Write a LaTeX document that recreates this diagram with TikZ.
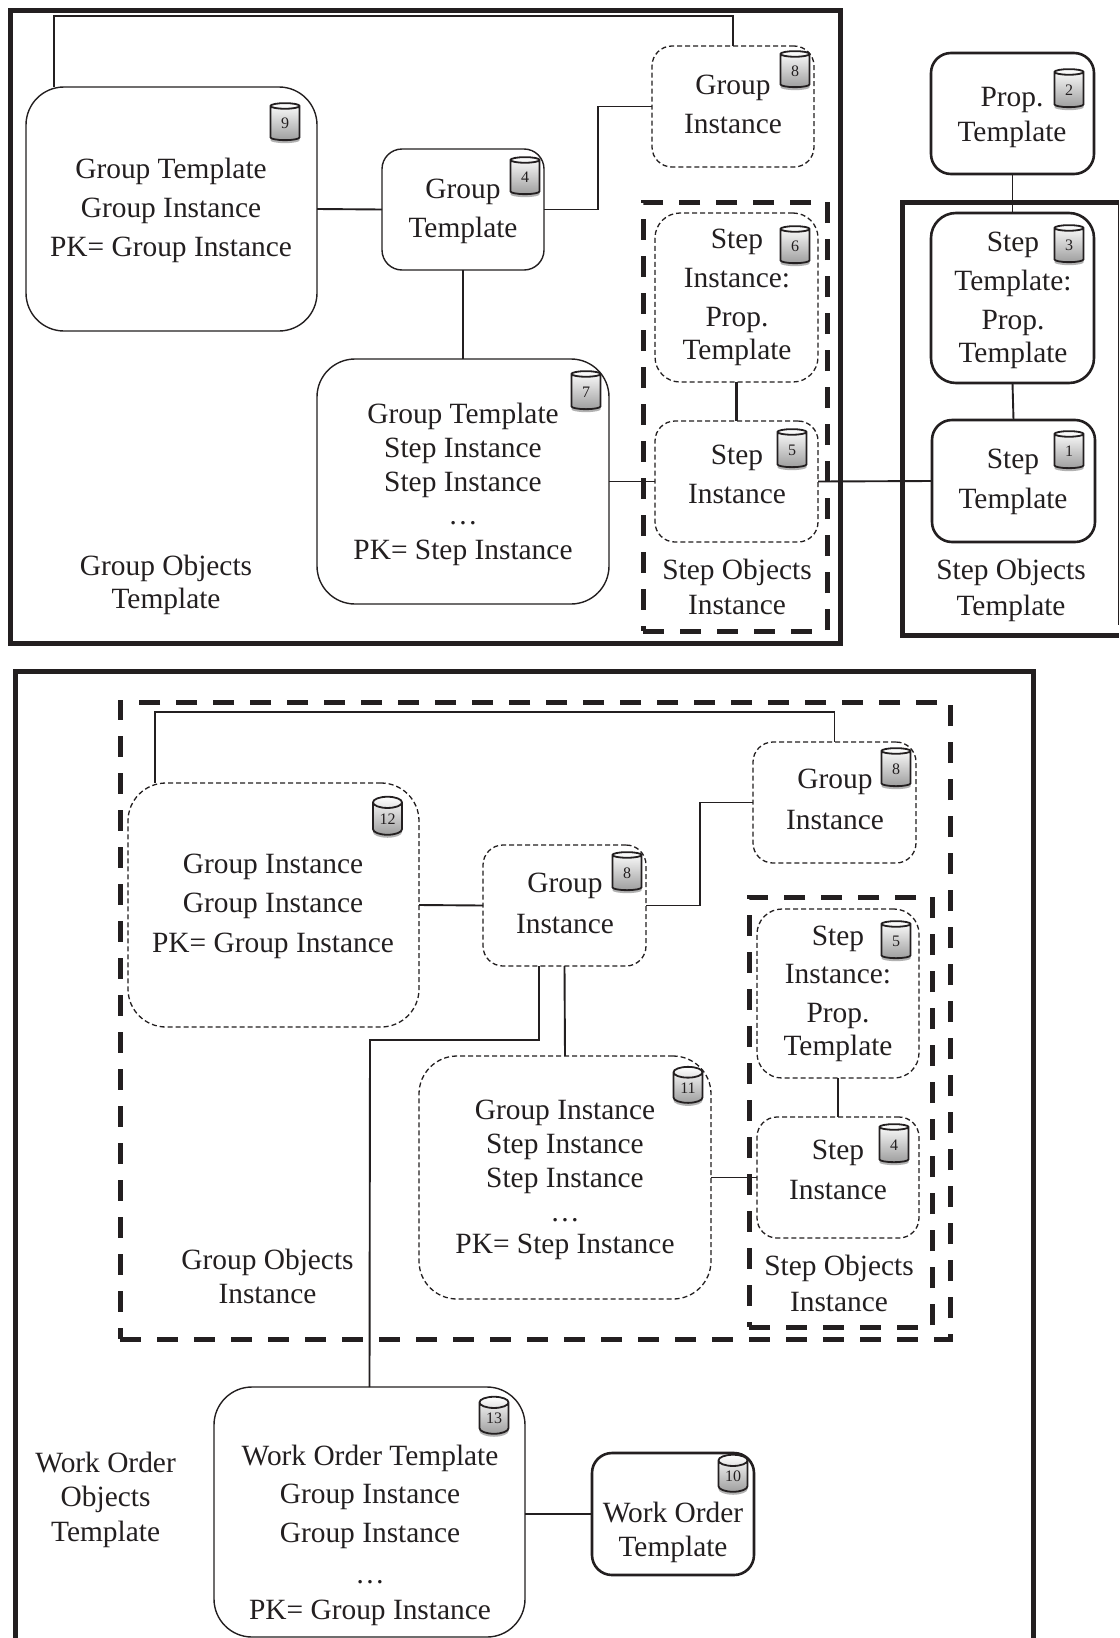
\documentclass[tikz,border=0pt]{standalone}
\usepackage{fontspec}
\setmainfont{Liberation Serif}
\usetikzlibrary{shapes.geometric,shadows}
\definecolor{ink}{HTML}{231F20}
\tikzset{
  boxbase/.style={rectangle,draw=ink,inner sep=0pt,outer sep=0pt},
  frame/.style={boxbase,line width=5pt},
  framepath/.style={draw=ink,line width=5pt},
  bigdash/.style={boxbase,line width=5pt,dash pattern=on 21pt off 16pt},
  thinsolid/.style={boxbase,line width=1.4pt,rounded corners=#1},
  boldsolid/.style={boxbase,line width=2.6pt,rounded corners=#1},
  thindash/.style={boxbase,line width=1.3pt,dash pattern=on 5pt off 3pt,rounded corners=#1},
  link/.style={draw=ink,line width=1.9pt},
  boldlink/.style={draw=ink,line width=2.8pt},
  txt/.style={text=ink,inner sep=0pt,outer sep=0pt,anchor=north,align=center,yshift=21.6pt,font=\fontsize{29.4}{37}\selectfont},
  cyl/.style={cylinder,shape border rotate=90,aspect=0.7,draw=ink,line width=1.8pt,inner sep=0pt,outer sep=0pt,
    top color=white,bottom color=black!38,text=ink,font=\fontsize{16}{16}\selectfont,
    drop shadow={shadow xshift=0pt,shadow yshift=-3pt,opacity=.3,fill=black}},
}
\newcommand{\bx}[6]{\node[#2,minimum width={(#5-#3)*1pt},minimum height={(#6-#4)*1pt}] (#1) at ({(#3+#5)/2},{(#4+#6)/2}) {};}
\newcommand{\Txt}[4]{\node[txt] (#1) at (#2,#3) {\rule{0pt}{22pt}#4};}
\newcommand{\cy}[5]{\node[cyl,minimum width=29pt,minimum height={(#4-#3)*1pt}] (#1) at (#2,{(#3+#4)/2+2}) {#5};}
\begin{document}
\begin{tikzpicture}[x=1pt,y=-1pt]
\useasboundingbox[fill=white] (0,0) rectangle (1119,1638);
% frames
\bx{topframe}{frame}{10}{10}{840}{643}
\draw[framepath] (1119,202) -- (902,202) -- (902,635) -- (1119,635);
\draw[draw=ink,line width=0.8pt] (1118.6,202) -- (1118.6,625);
\draw[framepath] (15,1638) -- (15,671) -- (1033,671) -- (1033,1638);
\bx{stepinstA}{bigdash}{643}{202}{827}{631}
\bx{grpinst}{bigdash}{120}{702}{950}{1339}
\bx{stepinstB}{bigdash}{749}{897}{932}{1327}
% upper boxes
\bx{n8}{thindash=20pt}{652}{46}{814}{167}
\bx{n2}{boldsolid=20pt}{931}{53}{1094}{174}
\bx{n3}{boldsolid=25pt}{931}{213}{1094}{383}
\bx{n1}{boldsolid=20pt}{932}{420}{1095}{542}
\bx{n6}{thindash=25pt}{655}{213}{818}{382}
\bx{n5}{thindash=20pt}{655}{421}{818}{542}
\bx{n9}{thinsolid=38pt}{26}{87}{317}{331}
\bx{n4}{thinsolid=20pt}{382}{149}{544}{270}
\bx{n7}{thinsolid=38pt}{317}{359}{609}{604}
% lower boxes
\bx{n12}{thindash=38pt}{128}{783}{419}{1027}
\bx{m8}{thindash=20pt}{483}{845}{646}{966}
\bx{k8}{thindash=20pt}{753}{742}{916}{863}
\bx{m5}{thindash=25pt}{757}{909}{919}{1078}
\bx{m4}{thindash=20pt}{757}{1117}{919}{1238}
\bx{n11}{thindash=38pt}{419}{1056}{711}{1299}
\bx{n13}{thinsolid=38pt}{214}{1387}{525}{1637}
\bx{n10}{boldsolid=20pt}{592}{1453}{754}{1575}
% connectors
\coordinate (a) at (598,106.5);
\coordinate (b) at (54,16);
\coordinate (c) at (700,802.5);
\coordinate (d) at (155,712);
\coordinate (e) at (539,1040);
\coordinate (f) at (370,1040);
\draw[link] (n9.east) -- (n4.west);
\draw[link] (n4.east) -| (a) -- (n8.west);
\draw[link] (n8.north) |- (b) -- (b |- n9.north);
\draw[link] (n4.south) -- (n7.north);
\draw[link] (n7.east) -- (n5.west);
\draw[link] (n5.east) -- (n1.west);
\draw[boldlink] (n6.south) -- (n5.north);
\draw[link] (n2.south) -- (n3.north);
\draw[link] (n3.south) -- (n1.north);
\draw[link] (n12.east) -- (m8.west);
\draw[link] (m8.east) -| (c) -- (k8.west);
\draw[link] (k8.north) |- (d) -- (d |- n12.north);
\draw[link] (m8.south) -- (n11.north);
\draw[link] (m8.south -| e) -- (e) -- (f) -- (n13.north);
\draw[link] (n11.east) -- (m4.west);
\draw[boldlink] (m5.south) -- (m4.north);
\draw[link] (n13.east |- n10.west) -- (n10.west);
% texts
\Txt{t8}{733}{94}{Group\\[2pt]Instance}
\Txt{t2}{1012}{106}{Prop.\\[-2pt]Template}
\Txt{t3}{1013}{251}{Step\\[2pt]Template:\\[2pt]Prop.\\[-4pt]Template}
\Txt{t1}{1013}{468}{Step\\[3pt]Template}
\Txt{l1}{1011}{579}{Step Objects\\[-1pt]Template}
\Txt{t6}{737}{248}{Step\\[2pt]Instance:\\[2pt]Prop.\\[-4pt]Template}
\Txt{t5}{737}{464}{Step\\[2pt]Instance}
\Txt{l2}{737}{579}{Step Objects\\[-2pt]Instance}
\Txt{t9}{171}{178}{Group Template\\[2pt]Group Instance\\[2pt]PK= Group Instance}
\Txt{t4}{463}{198}{Group\\[2pt]Template}
\Txt{t7}{463}{423}{Group Template\\[-3pt]Step Instance\\[-3pt]Step Instance\\[-4pt]\ldots\\[-2pt]PK= Step Instance}
\Txt{l3}{166}{575}{Group Objects\\[-4pt]Template}
\Txt{t12}{273}{873}{Group Instance\\[2pt]Group Instance\\[3pt]PK= Group Instance}
\Txt{tm8}{565}{892}{Group\\[4pt]Instance}
\Txt{tk8}{835}{788}{Group\\[4pt]Instance}
\Txt{tm5}{838}{945}{Step\\[1pt]Instance:\\[2pt]Prop.\\[-4pt]Template}
\Txt{tm4}{838}{1159}{Step\\[3pt]Instance}
\Txt{l4}{839}{1275}{Step Objects\\[-1pt]Instance}
\Txt{t11}{565}{1119}{Group Instance\\[-3pt]Step Instance\\[-3pt]Step Instance\\[-3pt]\ldots\\[-5pt]PK= Step Instance}
\Txt{l5}{267.5}{1269}{Group Objects\\[-3pt]Instance}
\Txt{l6}{105.6}{1472}{Work Order\\[-3pt]Objects\\[-2pt]Template}
\Txt{t13}{370}{1465}{Work Order Template\\[1pt]Group Instance\\[2pt]Group Instance\\[4pt]\ldots\\[-1pt]PK= Group Instance}
\Txt{t10}{673}{1522}{Work Order\\[-3pt]Template}
% cylinders
\cy{c8}{795}{51}{87}{8}
\cy{c2}{1069}{69}{107}{2}
\cy{c3}{1069}{225}{262}{3}
\cy{c6}{795}{226}{263}{6}
\cy{c5}{792}{429}{467}{5}
\cy{c1}{1069}{431}{468}{1}
\cy{c9}{285}{103}{140}{9}
\cy{c4}{525}{157}{194}{4}
\cy{c7}{586}{371}{409}{7}
\cy{c12}{387.5}{798}{836}{12}
\cy{cm8}{627}{852}{890}{8}
\cy{ck8}{896}{748}{786}{8}
\cy{cm5}{896}{921}{958}{5}
\cy{cm4}{894}{1124}{1162}{4}
\cy{c11}{688}{1068}{1104}{11}
\cy{c13}{494}{1398}{1435}{13}
\cy{c10}{733}{1456}{1493}{10}
\end{tikzpicture}
\end{document}
